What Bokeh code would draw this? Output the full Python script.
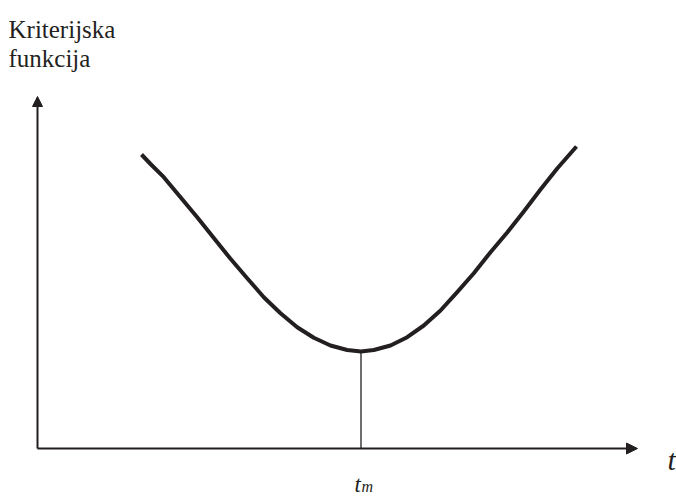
from bokeh.plotting import figure
from bokeh.models import Arrow, NormalHead, Range1d
from bokeh.core.properties import value
from bokeh.embed import file_html
from bokeh.resources import INLINE

# curve of the criterion function (t, f)
curve_t = [1.04, 1.13, 1.263, 1.43, 1.597, 1.763, 1.93, 2.097, 2.263, 2.43, 2.597,
           2.763, 2.93, 3.097, 3.235, 3.363, 3.53, 3.697, 3.863, 4.03, 4.197, 4.363,
           4.53, 4.697, 4.863, 5.03, 5.197, 5.39]
curve_f = [2.94, 2.845, 2.713, 2.513, 2.313, 2.105, 1.897, 1.703, 1.513, 1.353, 1.213,
           1.107, 1.03, 0.985, 0.97, 0.985, 1.03, 1.113, 1.23, 1.38, 1.563, 1.753,
           1.963, 2.16, 2.37, 2.59, 2.80, 3.02]
t_min = 3.235
f_min = 0.97
x_axis_end = 6.0
y_axis_end = 3.52

y_title = ["Kriterijska", "funkcija"]
x_title = "t"
min_label = "t"
min_sub = "m"

INK = "#231f20"
FONT = value("Liberation Serif")

p = figure(width=676, height=496, output_backend="svg", toolbar_location=None,
           x_range=Range1d(-0.37, 6.39), y_range=Range1d(-0.48, 4.48),
           min_border=0, outline_line_color=None)
p.axis.visible = False
p.grid.visible = False
p.background_fill_color = "white"
p.border_fill_color = "white"

# axes with arrow heads
p.add_layout(Arrow(end=NormalHead(size=11, fill_color=INK, line_color=INK, line_width=1),
                   x_start=0, y_start=0, x_end=x_axis_end, y_end=0,
                   line_color=INK, line_width=2))
p.add_layout(Arrow(end=NormalHead(size=10, fill_color=INK, line_color=INK, line_width=1),
                   x_start=0, y_start=0, x_end=0, y_end=y_axis_end,
                   line_color=INK, line_width=2))

# curve
p.line(curve_t, curve_f, line_color=INK, line_width=4, line_join="round")

# minimum marker
p.segment(x0=[t_min], y0=[0], x1=[t_min], y1=[f_min], line_color=INK, line_width=1.3)

# y title
p.text(x=[-0.29, -0.29], y=[4.19, 3.90], text=y_title, text_font=FONT,
       text_font_size="25px", text_color=INK, text_baseline="alphabetic")

# x title
p.text(x=[6.30], y=[-0.11], text=[x_title], text_font=FONT, text_font_style="italic",
       text_font_size="30px", text_color=INK, text_baseline="alphabetic")

# t_m label
p.text(x=[t_min - 0.065], y=[-0.355], text=[min_label], text_font=FONT, text_font_style="italic",
       text_font_size="23px", text_color=INK, text_baseline="alphabetic")
p.text(x=[t_min + 0.005], y=[-0.375], text=[min_sub], text_font=FONT, text_font_style="italic",
       text_font_size="16px", text_color=INK, text_baseline="alphabetic")

open("out.html", "w").write(file_html(p, INLINE))
